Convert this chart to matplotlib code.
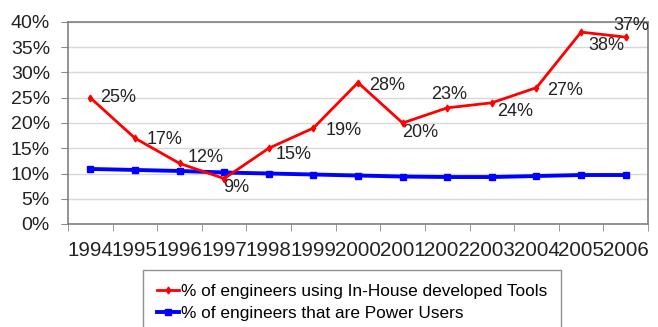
import numpy as np
import matplotlib.pyplot as plt
from matplotlib import font_manager

years = ['1994', '1995', '1996', '1997', '1998', '1999', '2000',
         '2001', '2002', '2003', '2004', '2005', '2006']
in_house = [25, 17, 12, 9, 15, 19, 28, 20, 23, 24, 27, 38, 37]
power_users = [10.9, 10.7, 10.5, 10.2, 10.0, 9.8, 9.6, 9.4, 9.3, 9.3, 9.5, 9.7, 9.7]
yticks = [0, 5, 10, 15, 20, 25, 30, 35, 40]

# label offsets (pixels, x right / y up) for the red series labels
offsets_px = [(10, 0), (12, -1), (8, 6), (-1, -9), (7, -6), (12, -2), (11, -3),
              (0, -10), (-16, 13), (5, -9), (11, -3), (7, -13), (-12, 12)]

names = {f.name for f in font_manager.fontManager.ttflist}
main_font = 'Liberation Sans' if 'Liberation Sans' in names else 'DejaVu Sans'
legend_font = 'Liberation Sans Narrow' if 'Liberation Sans Narrow' in names else main_font
plt.rcParams['font.family'] = [main_font, 'DejaVu Sans']

fig = plt.figure(figsize=(6.58, 3.27), dpi=100)
ax = fig.add_axes([68 / 658, 1 - 224 / 327, 580 / 658, 202 / 327])

x = np.arange(len(years))
ax.plot(x, power_users, color='#0000ff', lw=2.8, marker='s', ms=5,
        label='% of engineers that are Power Users', zorder=3)
ax.plot(x, in_house, color='#ff0000', lw=2, marker='d', ms=3.5,
        label='% of engineers using In-House developed Tools', zorder=4)

for xi, v, (dx, dy) in zip(x, in_house, offsets_px):
    ax.annotate(f'{v}%', (xi, v), xytext=(dx * 0.72, dy * 0.72),
                textcoords='offset points', fontsize=13, color='#222222',
                va='center', ha='left')

ax.set_xlim(-0.5, len(years) - 0.5)
ax.set_ylim(0, 40)
ax.set_yticks(yticks)
ax.set_yticklabels([f'{t}%' for t in yticks], fontsize=14, color='#222222')
ax.set_xticks(x)
ax.set_xticklabels(years, fontsize=14.8, color='#222222')
ax.set_xticks(np.arange(-0.5, len(years)), minor=True)
ax.tick_params(axis='x', which='major', length=0, pad=12)
ax.tick_params(axis='x', which='minor', length=5, color='#888888')
ax.tick_params(axis='y', length=5, color='#888888', pad=8)
ax.grid(axis='y', color='#d8d8d8', lw=1)
ax.set_axisbelow(True)
for s in ax.spines.values():
    s.set_color('#808080')
    s.set_linewidth(1.2)

handles, labels = ax.get_legend_handles_labels()
leg = fig.legend(handles[::-1], labels[::-1], loc='upper left',
                 bbox_to_anchor=(143 / 658, 1 - 270 / 327),
                 prop={'family': legend_font, 'size': 12.4},
                 handlelength=1.3, handletextpad=0.1, borderpad=0.8,
                 borderaxespad=0, labelspacing=0.4, fancybox=False,
                 framealpha=1)
leg.get_frame().set_edgecolor('#909090')

fig.savefig('out.png', dpi=100)
